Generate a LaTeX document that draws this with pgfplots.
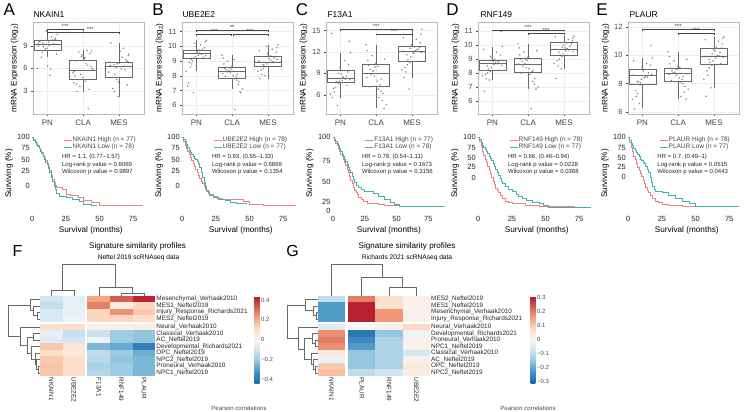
\documentclass[border=0pt]{standalone}
\usepackage{fontspec}
\setmainfont{Liberation Sans}
\usepackage{pgfplots}
\pgfplotsset{compat=1.18}
\usepackage{pgfplotstable}
\usepgfplotslibrary{statistics}

\definecolor{hi}{RGB}{240,128,128}
\definecolor{lo}{RGB}{64,178,178}
\definecolor{boxc}{RGB}{105,105,105}
\definecolor{ptc}{RGB}{115,115,115}
\definecolor{dend}{RGB}{105,105,105}
\definecolor{txt}{RGB}{70,70,70}

\pgfdeclareplotmark{cellF}{\pgfpathrectangle{\pgfpoint{-11.35pt}{-3.3pt}}{\pgfpoint{22.7pt}{6.6pt}}\pgfusepath{fill}}
\pgfdeclareplotmark{cellG}{\pgfpathrectangle{\pgfpoint{-13.7pt}{-3.3pt}}{\pgfpoint{27.4pt}{6.6pt}}\pgfusepath{fill}}

\tikzset{
  star/.style={font=\fontsize{6}{6}\selectfont, text=txt, inner sep=0.3pt, anchor=south},
  hr/.style={anchor=west, align=left, font=\fontsize{6}{7.5}\selectfont, inner sep=0pt, text=black!85},
}

\pgfplotsset{
  colormap={rdbu}{rgb255=(33,102,172) rgb255=(67,147,195) rgb255=(146,197,222) rgb255=(209,229,240) rgb255=(247,247,247) rgb255=(253,219,199) rgb255=(244,165,130) rgb255=(214,96,77) rgb255=(178,24,43)},
  /pgf/number format/assume math mode=true,
  boxax/.style={
    scale only axis, anchor=south west, width=111pt, height=92pt,
    xmin=0.6, xmax=3.7, xtick={1,2,3}, xticklabels={PN,CLA,MES},
    axis line style={gray!55, line width=0.4pt},
    tick style={txt, line width=0.4pt}, tick align=outside, major tick length=2pt,
    xtick pos=bottom, ytick pos=left,
    grid=major, grid style={gray!13, line width=0.4pt},
    yticklabel style={font=\fontsize{7.5}{8}\selectfont, text=txt},
    xticklabel style={font=\fontsize{8}{9}\selectfont, text=txt},
    ylabel={mRNA Expression (log\textsubscript{2})},
    ylabel style={font=\fontsize{8.2}{9}\selectfont, yshift=-2pt},
    clip=false},
  bx/.style={draw=boxc, line width=0.45pt, solid, fill=none, mark=none},
  pts/.style={only marks, mark=*, mark size=0.55pt, ptc, opacity=0.75},
  sig/.style={draw=txt, line width=0.45pt, mark=none},
  survax/.style={
    scale only axis, anchor=south west, height=80.3pt, width=119.7pt,
    xmin=-1, xmax=88, ymin=-5, ymax=105,
    axis line style={draw=none}, major tick length=0pt,
    xtick={0,25,50,75},
    tick label style={font=\fontsize{7.5}{8}\selectfont, text=black!85},
    xticklabel style={yshift=1pt},
    yticklabel style={inner sep=1pt},
    xlabel={Survival (months)}, ylabel={Surviving (\%)},
    label style={font=\fontsize{8.2}{9}\selectfont},
    xlabel style={yshift=2pt},
    legend style={draw=none, fill=none, anchor=north west,
      font=\fontsize{6.5}{7}\selectfont, text=txt,
      nodes={inner sep=0.5pt}, row sep=0pt},
    legend cell align=left,
    legend image code/.code={\draw[##1, line width=0.7pt] (0pt,0pt) -- (8pt,0pt);}},
  surv/.style={const plot, mark=none, line width=0.6pt},
  hm/.style={
    scale only axis, anchor=south west, height=80pt,
    ymin=-12.8, ymax=-0.5, colormap name=rdbu,
    axis line style={draw=none}, major tick length=0pt,
    ytick={-1,-2,-3,-4,-5.3,-6.3,-7.3,-8.3,-9.3,-10.3,-11.3,-12.3},
    yticklabel pos=right,
    tick label style={font=\fontsize{6.4}{7}\selectfont, text=black!85},
    yticklabel style={inner sep=1pt},
    xticklabel style={rotate=-90, anchor=west, inner sep=1.5pt},
    clip=false},
  cb/.style={at={(parent axis.north east)}, anchor=north west,
    width=4.8pt, height=87pt, axis line style={draw=none}, major tick length=0pt,
    yticklabel style={font=\fontsize{6}{7}\selectfont, text=txt, inner sep=1.5pt}},
  dendax/.style={scale only axis, hide axis, clip=false},
  dd/.style={draw=dend, line width=0.5pt, mark=none, unbounded coords=jump},
}

\newcommand{\ttl}[3]{\node[anchor=west, font=\fontsize{8.5}{9}\selectfont] at (#1pt,-#2pt) {#3};}
\newcommand{\lett}[3]{\node[font=\fontsize{17}{17}\selectfont] at (#1pt,-#2pt) {#3};}

% jitter offsets and point values, columns: PN, CLA, MES
\pgfplotstableread{
j p c m
-0.25 9.4 6.0 6.4
0.12 10.2 8.2 8.7
-0.06 8.6 4.3 4.5
0.21 9.9 7.0 7.0
-0.17 7.5 3.2 3.3
0.05 9.1 7.6 6.2
0.28 10.5 5.4 7.9
-0.11 8.9 8.4 5.2
0.01 6.3 4.8 6.7
-0.22 9.6 6.3 9.4
0.17 9.3 2.9 5.8
-0.03 11.0 7.3 2.2
0.25 8.4 5.6 6.9
-0.19 9.7 8.0 4.8
0.09 5.9 3.6 7.5
-0.08 9.2 6.6 6.1
0.23 10.0 5.0 3.8
-0.14 8.1 0.6 6.5
0.03 9.5 7.8 8.3
-0.28 6.0 5.8 5.5
0.14 9.8 4.5 6.3
-0.01 8.7 7.1 4.2
0.19 10.8 3.9 7.2
-0.24 9.0 8.3 6.8
0.07 5.1 5.2 5.9
-0.13 9.4 6.4 2.9
0.26 7.9 4.1 7.7
-0.05 9.75 7.4 6.6
}\ptsA
\pgfplotstableread{
j p c m
-0.25 9.5 8.3 9.0
0.12 10.1 9.0 9.8
-0.06 9.2 7.8 8.6
0.21 9.7 8.5 9.3
-0.17 8.6 7.4 8.1
0.05 9.4 8.2 8.9
0.28 10.4 9.4 10.1
-0.11 9.0 7.9 8.7
0.01 9.6 8.6 9.4
-0.22 7.5 6.9 7.8
0.17 9.8 8.4 9.2
-0.03 9.3 8.0 8.8
0.25 10.3 9.2 9.9
-0.19 8.9 7.6 8.4
0.09 9.55 8.35 9.05
-0.08 6.85 5.7 8.0
0.23 9.9 8.8 9.6
-0.14 9.1 8.1 8.75
0.03 9.65 8.45 9.15
-0.28 8.3 7.1 8.3
0.14 9.45 8.25 8.95
-0.01 10.0 8.7 9.5
0.19 9.25 7.95 8.65
-0.24 7.3 6.85 9.7
0.07 9.75 8.55 9.35
-0.13 8.8 7.7 8.5
0.26 9.35 8.15 9.1
-0.05 10.2 9.1 10.0
}\ptsB
\pgfplotstableread{
j p c m
-0.25 8.3 9.0 12.1
0.12 10.8 11.5 13.8
-0.06 7.6 6.8 10.5
0.21 9.2 10.1 12.6
-0.17 6.4 5.2 9.2
0.05 8.0 8.6 11.8
0.28 11.9 13.0 15.2
-0.11 7.8 7.4 10.9
0.01 9.5 10.4 12.9
-0.22 5.6 4.1 8.4
0.17 8.6 9.6 12.4
-0.03 7.9 7.9 11.3
0.25 13.5 12.2 14.5
-0.19 6.9 6.2 9.8
0.09 8.4 9.3 12.2
-0.08 4.5 5.6 6.8
0.23 10.2 10.8 13.3
-0.14 7.7 8.2 11.6
0.03 8.9 9.9 12.0
-0.28 6.1 4.6 9.5
0.14 8.2 8.8 12.3
-0.01 9.8 10.6 13.0
0.19 7.3 7.1 10.7
-0.24 14.6 11.0 14.0
0.07 8.5 9.4 12.7
-0.13 7.0 6.5 10.2
0.26 8.1 8.4 11.9
-0.05 9.0 10.0 12.5
}\ptsC
\pgfplotstableread{
j p c m
-0.25 8.7 8.6 9.7
0.12 9.5 9.5 10.4
-0.06 8.1 7.9 9.2
0.21 8.9 9.0 10.1
-0.17 7.6 7.2 8.5
0.05 8.6 8.4 9.6
0.28 9.9 10.1 10.65
-0.11 8.3 8.1 9.3
0.01 9.0 9.1 10.2
-0.22 6.7 6.85 7.6
0.17 8.8 8.8 9.9
-0.03 8.4 8.3 9.4
0.25 11.0 9.8 10.5
-0.19 7.9 7.6 8.9
0.09 8.75 8.7 9.75
-0.08 7.5 5.45 8.3
0.23 9.3 9.3 10.3
-0.14 8.5 8.2 9.5
0.03 8.85 8.9 9.8
-0.28 7.8 7.0 8.7
0.14 8.65 8.5 9.65
-0.01 9.1 9.2 10.0
0.19 8.2 8.0 9.25
-0.24 9.7 9.6 10.6
0.07 8.95 8.95 10.15
-0.13 8.0 7.4 9.0
0.26 8.55 8.65 9.55
-0.05 9.2 9.05 9.85
}\ptsD
\pgfplotstableread{
j p c m
-0.25 8.6 8.7 9.9
0.12 9.4 9.6 11.0
-0.06 7.9 8.1 9.3
0.21 9.0 9.1 10.5
-0.17 7.1 7.4 8.6
0.05 8.4 8.6 9.8
0.28 9.8 10.25 11.3
-0.11 8.1 8.3 9.5
0.01 9.15 9.2 10.6
-0.22 6.2 6.9 7.1
0.17 8.75 8.9 10.2
-0.03 8.3 8.4 9.6
0.25 10.7 9.9 11.2
-0.19 7.5 7.8 8.9
0.09 8.5 8.8 10.0
-0.08 6.6 7.1 7.7
0.23 9.3 9.4 10.8
-0.14 8.15 8.5 9.7
0.03 8.9 9.0 10.3
-0.28 6.9 7.6 8.3
0.14 8.45 8.75 9.95
-0.01 9.2 9.3 10.4
0.19 7.95 8.2 9.4
-0.24 9.6 9.7 11.1
0.07 9.0 9.05 10.55
-0.13 7.3 8.0 9.1
0.26 8.65 8.65 9.85
-0.05 8.05 9.15 10.1
}\ptsE

\begin{document}
\begin{tikzpicture}
\path[use as bounding box] (0pt,0pt) rectangle (747pt,-412pt);

% ---------------- box plots ----------------
\begin{axis}[boxax, at={(33pt,-114pt)}, ymin=-0.1, ymax=12.2, ytick={3,6,9}]
\addplot[bx, boxplot prepared={draw direction=y, draw position=1, lower whisker=7.5, lower quartile=8.45, median=9.2, upper quartile=9.75, upper whisker=11.0, box extend=0.75, whisker extend=0}] coordinates {};
\addplot[bx, boxplot prepared={draw direction=y, draw position=2, lower whisker=2.9, lower quartile=4.5, median=5.8, upper quartile=7.1, upper whisker=8.4, box extend=0.75, whisker extend=0}] coordinates {};
\addplot[bx, boxplot prepared={draw direction=y, draw position=3, lower whisker=2.2, lower quartile=4.75, median=6.25, upper quartile=6.8, upper whisker=9.4, box extend=0.75, whisker extend=0}] coordinates {};
\addplot[pts] table[x expr=1+\thisrow{j}, y=p] {\ptsA};
\addplot[pts] table[x expr=2-\thisrow{j}, y=c] {\ptsA};
\addplot[pts] table[x expr=3+\thisrow{j}, y=m] {\ptsA};
\addplot[sig] coordinates {(1,11.0) (1,11.2) (2,11.2) (2,11.0)};
\addplot[sig] coordinates {(1,10.65) (1,10.85) (3,10.85) (3,10.65)};
\node[star] at (axis cs:1.5,11.2) {***};
\node[star] at (axis cs:2.2,10.85) {***};
\end{axis}

\begin{axis}[boxax, at={(182pt,-114pt)}, ymin=5.4, ymax=11.65, ytick={6,7,8,9,10,11}]
\addplot[bx, boxplot prepared={draw direction=y, draw position=1, lower whisker=8.3, lower quartile=9.2, median=9.5, upper quartile=9.75, upper whisker=10.4, box extend=0.75, whisker extend=0}] coordinates {};
\addplot[bx, boxplot prepared={draw direction=y, draw position=2, lower whisker=7.1, lower quartile=7.85, median=8.3, upper quartile=8.55, upper whisker=9.4, box extend=0.75, whisker extend=0}] coordinates {};
\addplot[bx, boxplot prepared={draw direction=y, draw position=3, lower whisker=7.8, lower quartile=8.65, median=8.95, upper quartile=9.3, upper whisker=10.1, box extend=0.75, whisker extend=0}] coordinates {};
\addplot[pts] table[x expr=1+\thisrow{j}, y=p] {\ptsB};
\addplot[pts] table[x expr=2-\thisrow{j}, y=c] {\ptsB};
\addplot[pts] table[x expr=3+\thisrow{j}, y=m] {\ptsB};
\addplot[sig] coordinates {(1,11.0) (1,11.1) (3,11.1) (3,11.0)};
\addplot[sig] coordinates {(1,10.73) (1,10.83) (1.97,10.83) (1.97,10.73)};
\addplot[sig] coordinates {(2.03,10.73) (2.03,10.83) (3,10.83) (3,10.73)};
\node[star] at (axis cs:2,11.1) {**};
\node[star] at (axis cs:1.5,10.83) {***};
\node[star] at (axis cs:2.5,10.83) {***};
\end{axis}

\begin{axis}[boxax, at={(326pt,-114pt)}, ymin=3.3, ymax=16.2, ytick={6,9,12,15}]
\addplot[bx, boxplot prepared={draw direction=y, draw position=1, lower whisker=5.6, lower quartile=7.7, median=8.3, upper quartile=9.4, upper whisker=11.9, box extend=0.75, whisker extend=0}] coordinates {};
\addplot[bx, boxplot prepared={draw direction=y, draw position=2, lower whisker=4.1, lower quartile=7.15, median=9.0, upper quartile=10.25, upper whisker=13.0, box extend=0.75, whisker extend=0}] coordinates {};
\addplot[bx, boxplot prepared={draw direction=y, draw position=3, lower whisker=8.4, lower quartile=10.7, median=12.1, upper quartile=12.8, upper whisker=15.2, box extend=0.75, whisker extend=0}] coordinates {};
\addplot[pts] table[x expr=1+\thisrow{j}, y=p] {\ptsC};
\addplot[pts] table[x expr=2-\thisrow{j}, y=c] {\ptsC};
\addplot[pts] table[x expr=3+\thisrow{j}, y=m] {\ptsC};
\addplot[sig] coordinates {(1,14.95) (1,15.15) (3,15.15) (3,14.95)};
\addplot[sig] coordinates {(2,14.35) (2,14.55) (3,14.55) (3,14.35)};
\node[star] at (axis cs:2,15.15) {***};
\node[star] at (axis cs:2.5,14.55) {***};
\end{axis}

\begin{axis}[boxax, at={(478pt,-114pt)}, ymin=5.06, ymax=11.66, ytick={6,7,8,9,10,11}]
\addplot[bx, boxplot prepared={draw direction=y, draw position=1, lower whisker=7.5, lower quartile=8.2, median=8.7, upper quartile=8.95, upper whisker=9.9, box extend=0.75, whisker extend=0}] coordinates {};
\addplot[bx, boxplot prepared={draw direction=y, draw position=2, lower whisker=6.85, lower quartile=8.05, median=8.65, upper quartile=9.07, upper whisker=10.1, box extend=0.75, whisker extend=0}] coordinates {};
\addplot[bx, boxplot prepared={draw direction=y, draw position=3, lower whisker=8.3, lower quartile=9.25, median=9.7, upper quartile=10.2, upper whisker=10.65, box extend=0.75, whisker extend=0}] coordinates {};
\addplot[pts] table[x expr=1+\thisrow{j}, y=p] {\ptsD};
\addplot[pts] table[x expr=2-\thisrow{j}, y=c] {\ptsD};
\addplot[pts] table[x expr=3+\thisrow{j}, y=m] {\ptsD};
\addplot[sig] coordinates {(1,11.0) (1,11.1) (3,11.1) (3,11.0)};
\addplot[sig] coordinates {(2,10.75) (2,10.85) (3,10.85) (3,10.75)};
\node[star] at (axis cs:2,11.1) {***};
\node[star] at (axis cs:2.5,10.85) {***};
\end{axis}

\begin{axis}[boxax, at={(628pt,-114pt)}, ymin=5.85, ymax=12.35, ytick={6,8,10,12}]
\addplot[bx, boxplot prepared={draw direction=y, draw position=1, lower whisker=6.3, lower quartile=7.98, median=8.56, upper quartile=9.02, upper whisker=9.8, box extend=0.75, whisker extend=0}] coordinates {};
\addplot[bx, boxplot prepared={draw direction=y, draw position=2, lower whisker=6.9, lower quartile=8.2, median=8.74, upper quartile=9.1, upper whisker=10.25, box extend=0.75, whisker extend=0}] coordinates {};
\addplot[bx, boxplot prepared={draw direction=y, draw position=3, lower whisker=7.7, lower quartile=9.4, median=9.95, upper quartile=10.5, upper whisker=11.3, box extend=0.75, whisker extend=0}] coordinates {};
\addplot[pts] table[x expr=1+\thisrow{j}, y=p] {\ptsE};
\addplot[pts] table[x expr=2-\thisrow{j}, y=c] {\ptsE};
\addplot[pts] table[x expr=3+\thisrow{j}, y=m] {\ptsE};
\addplot[sig] coordinates {(1,11.72) (1,11.82) (3,11.82) (3,11.72)};
\addplot[sig] coordinates {(2,11.44) (2,11.54) (3,11.54) (3,11.44)};
\node[star] at (axis cs:2,11.82) {***};
\node[star] at (axis cs:2.5,11.54) {***};
\end{axis}

% ---------------- survival ----------------
\begin{axis}[survax, at={(30.95pt,-213.65pt)}, ytick={33.5,53.5,68.5,84.5,100}, yticklabels={0,25,50,75,100}, legend style={at={(0.245,0.99)}}]
\addplot[surv, hi] coordinates {(0,100)(1,97)(2,94)(3,91)(4,88)(5,85)(6,82)(7,79)(8,75)(9,72)(10,68)(11,64)(12,60)(13,54)(14,48)(15,42)(16,38)(17,34)(18,31)(22,29)(25,22)(28,20)(34,18)(38,13)(44,11)(50,7)(60,6)(82,6)};
\addlegendentry{NKAIN1 High (n = 77)}
\addplot[surv, lo] coordinates {(0,100)(1,96)(2,93)(3,90)(4,87)(5,84)(6,81)(7,78)(8,74)(9,70)(10,66)(11,62)(12,57)(13,51)(14,45)(15,39)(16,33)(17,28)(18,23)(20,19)(25,17)(30,14)(35,12)(38,8)(44,7)(48,7)};
\addlegendentry{NKAIN1 Low (n = 78)}
\node[hr] at (axis cs:22,62.3) {HR = 1.1, (0.77–1.57)\\Log-rank p value = 0.6069\\Wilcoxon p value = 0.9897};
\end{axis}

\begin{axis}[survax, at={(180.95pt,-213.65pt)}, ytick={33.5,53.5,68.5,84.5,100}, yticklabels={0,25,50,75,100}, legend style={at={(0.245,0.99)}}]
\addplot[surv, hi] coordinates {(0,100)(1,94)(2,88)(3,84)(4,80)(5,76)(6,72)(7,68)(8,64)(9,60)(10,56)(11,52)(12,48)(13,44)(14,40)(15,36)(16,32)(17,28)(18,25)(20,22)(23,19)(26,16)(30,15)(40,14)(45,12)(50,8)(60,7)(84,6)};
\addlegendentry{UBE2E2 High (n = 78)}
\addplot[surv, lo] coordinates {(0,100)(1,97)(2,94)(3,90)(4,86)(5,82)(6,79)(7,76)(8,73)(9,71)(10,69)(11,67)(12,64)(13,58)(14,52)(15,45)(16,38)(17,32)(18,27)(19,23)(20,20)(23,17)(27,15)(32,13)(36,11)(40,9)(48,9)};
\addlegendentry{UBE2E2 Low (n = 77)}
\node[hr] at (axis cs:22,62.3) {HR = 0.93, (0.65–1.33)\\Log-rank p value = 0.6869\\Wilcoxon p value = 0.1354};
\end{axis}

\begin{axis}[survax, at={(331.73pt,-213.65pt)}, width=114.3pt, xmax=89, ytick={-1,11,39,67,100}, yticklabels={0,25,50,75,100}, legend style={at={(0.264,0.99)}}]
\addplot[surv, hi] coordinates {(0,100)(1,96)(2,92)(3,88)(4,84)(5,80)(6,76)(7,73)(8,69)(9,65)(10,61)(11,56)(12,51)(13,46)(14,41)(15,36)(16,31)(17,27)(18,24)(19,21)(20,18)(22,15)(24,12)(27,9)(32,9)(36,8)(40,6)(52,5)(88,5)};
\addlegendentry{F13A1 High (n = 77)}
\addplot[surv, lo] coordinates {(0,100)(1,97)(2,94)(3,91)(4,88)(5,84)(6,80)(7,76)(8,73)(9,70)(10,67)(11,63)(12,59)(13,55)(14,51)(15,46)(16,42)(17,38)(18,34)(20,31)(22,28)(25,26)(28,25)(32,23)(36,19)(40,15)(45,11)(48,8)(52,5)(88,5)};
\addlegendentry{F13A1 Low (n = 78)}
\node[hr] at (axis cs:22.8,62.3) {HR = 0.78, (0.54–1.11)\\Log-rank p value = 0.1673\\Wilcoxon p value = 0.3156};
\end{axis}

\begin{axis}[survax, at={(476.95pt,-213.65pt)}, ytick={43.5,59.5,71,85,100}, yticklabels={0,25,50,75,100}, legend style={at={(0.245,0.99)}}]
\addplot[surv, hi] coordinates {(0,100)(1,94)(2,87)(3,80)(4,75)(5,70)(6,65)(7,60)(8,55)(9,50)(10,45)(11,40)(12,35)(13,30)(14,27)(15,24)(16,20)(18,16)(20,12)(22,10)(25,9)(35,7)(45,5)(72,5)};
\addlegendentry{RNF149 High (n = 78)}
\addplot[surv, lo] coordinates {(0,100)(1,97)(2,93)(3,89)(4,86)(5,83)(6,80)(7,77)(8,74)(9,71)(10,68)(11,64)(12,60)(13,56)(14,52)(15,48)(16,44)(17,40)(18,37)(20,33)(22,28)(25,25)(28,22)(30,19)(33,16)(36,13)(40,11)(45,9)(48,6)(52,4)(84,4)};
\addlegendentry{RNF149 Low (n = 77)}
\node[hr] at (axis cs:22,62.3) {HR = 0.66, (0.46–0.94)\\Log-rank p value = 0.0228\\Wilcoxon p value = 0.0388};
\end{axis}

\begin{axis}[survax, at={(626.95pt,-213.65pt)}, ytick={45.5,59.5,71.5,84.5,100}, yticklabels={0,25,50,75,100}, legend style={at={(0.245,0.99)}}]
\addplot[surv, hi] coordinates {(0,100)(1,93)(2,86)(3,80)(4,74)(5,69)(6,64)(7,59)(8,54)(9,50)(10,46)(11,41)(12,36)(13,31)(14,27)(15,24)(16,20)(18,16)(20,12)(22,10)(25,8)(30,6)(40,5)(50,5)};
\addlegendentry{PLAUR High (n = 78)}
\addplot[surv, lo] coordinates {(0,100)(1,96)(2,92)(3,88)(4,85)(5,82)(6,79)(7,76)(8,73)(9,70)(10,68)(11,66)(12,64)(13,60)(14,56)(15,52)(16,45)(17,38)(18,32)(19,28)(20,26)(25,24)(30,20)(35,16)(40,12)(45,9)(50,5)(82,4)};
\addlegendentry{PLAUR Low (n = 77)}
\node[hr] at (axis cs:21.5,62.3) {HR = 0.7, (0.49–1)\\Log-rank p value = 0.0515\\Wilcoxon p value = 0.0443};
\end{axis}

% ---------------- heatmap F ----------------
\begin{axis}[hm, at={(40pt,-376pt)}, width=115.3pt, xmin=0.5, xmax=5.6,
  xtick={1,2,3.1,4.1,5.1}, xticklabels={NKAIN1,UBE2E2,F13A1,RNF149,PLAUR},
  yticklabels={Mesenchymal\_Verhaak2010,MES1\_Neftel2019,Injury\_Response\_Richards2021,MES2\_Neftel2019,Neural\_Verhaak2010,Classical\_Verhaak2010,AC\_Neftel2019,Developmental\_Richards2021,OPC\_Neftel2019,NPC2\_Neftel2019,Proneural\_Verhaak2010,NPC1\_Neftel2019},
  point meta min=-0.44, point meta max=0.44,
  colorbar, colorbar style={cb, xshift=90.7pt, ytick={-0.4,-0.2,0,0.2,0.4}, yticklabels={−0.4,−0.2,0,0.2,0.4}}]
\addplot[scatter, only marks, mark=cellF, scatter src=explicit, scatter/use mapped color={draw=none, fill=mapped color}] table[x=x, y=y, meta=c] {
x y c
1 -1 -0.10
2 -1 -0.05
3.1 -1 0.22
4.1 -1 0.33
5.1 -1 0.42
1 -2 -0.13
2 -2 -0.05
3.1 -2 0.28
4.1 -2 0.05
5.1 -2 0.12
1 -3 -0.08
2 -3 -0.04
3.1 -3 0.12
4.1 -3 0.25
5.1 -3 0.15
1 -4 -0.08
2 -4 -0.03
3.1 -4 0.12
4.1 -4 0.12
5.1 -4 0.10
1 -5.3 0.10
2 -5.3 0.10
3.1 -5.3 0.03
4.1 -5.3 0.03
5.1 -5.3 0.04
1 -6.3 -0.05
2 -6.3 -0.13
3.1 -6.3 -0.12
4.1 -6.3 -0.20
5.1 -6.3 -0.22
1 -7.3 -0.07
2 -7.3 -0.10
3.1 -7.3 -0.03
4.1 -7.3 -0.20
5.1 -7.3 -0.22
1 -8.3 0.15
2 -8.3 0.07
3.1 -8.3 -0.25
4.1 -8.3 -0.28
5.1 -8.3 -0.38
1 -9.3 0.10
2 -9.3 0.06
3.1 -9.3 -0.14
4.1 -9.3 -0.20
5.1 -9.3 -0.27
1 -10.3 0.15
2 -10.3 0.10
3.1 -10.3 -0.15
4.1 -10.3 -0.22
5.1 -10.3 -0.25
1 -11.3 0.16
2 -11.3 0.10
3.1 -11.3 -0.18
4.1 -11.3 -0.20
5.1 -11.3 -0.25
1 -12.3 0.15
2 -12.3 0.10
3.1 -12.3 -0.16
4.1 -12.3 -0.20
5.1 -12.3 -0.25
};
\end{axis}

\begin{axis}[dendax, anchor=south west, at={(40pt,-296pt)}, width=115.3pt, height=32pt, xmin=0.5, xmax=5.6, ymin=0, ymax=32]
\addplot[dd] coordinates {(1,0)(1,6)(2,6)(2,0) (nan,nan) (4.1,0)(4.1,3)(5.1,3)(5.1,0) (nan,nan) (3.1,0)(3.1,9)(4.6,9)(4.6,3) (nan,nan) (1.5,6)(1.5,32)(3.85,32)(3.85,9)};
\end{axis}

\begin{axis}[dendax, anchor=south east, at={(40pt,-376pt)}, width=32pt, height=80pt, xmin=-32, xmax=0, ymin=-12.8, ymax=-0.5]
\addplot[dd] coordinates {
(0,-11.3)(-2,-11.3)(-2,-12.3)(0,-12.3) (nan,nan)
(0,-10.3)(-3.5,-10.3)(-3.5,-11.8)(-2,-11.8) (nan,nan)
(0,-9.3)(-5,-9.3)(-5,-11.05)(-3.5,-11.05) (nan,nan)
(0,-8.3)(-9,-8.3)(-9,-10.175)(-5,-10.175) (nan,nan)
(0,-6.3)(-7,-6.3)(-7,-7.3)(0,-7.3) (nan,nan)
(-7,-6.8)(-13,-6.8)(-13,-9.2375)(-9,-9.2375) (nan,nan)
(0,-5.3)(-20,-5.3)(-20,-8.01875)(-13,-8.01875) (nan,nan)
(0,-3)(-3,-3)(-3,-4)(0,-4) (nan,nan)
(0,-2)(-7,-2)(-7,-3.5)(-3,-3.5) (nan,nan)
(0,-1)(-10,-1)(-10,-2.75)(-7,-2.75) (nan,nan)
(-10,-1.875)(-32,-1.875)(-32,-6.659)(-20,-6.659)};
\end{axis}

% ---------------- heatmap G ----------------
\begin{axis}[hm, at={(318pt,-376pt)}, width=112pt, xmin=0.5, xmax=4.6,
  xtick={1,2.1,3.1,4.1}, xticklabels={NKAIN1,PLAUR,RNF149,UBE2E2},
  yticklabels={MES2\_Neftel2019,MES1\_Neftel2019,Mesenchymal\_Verhaak2010,Injury\_Response\_Richards2021,Neural\_Verhaak2010,Developmental\_Richards2021,Proneural\_Verhaak2010,NPC1\_Neftel2019,Classical\_Verhaak2010,AC\_Neftel2019,OPC\_Neftel2019,NPC2\_Neftel2019},
  point meta min=-0.31, point meta max=0.31,
  colorbar, colorbar style={cb, xshift=92pt, ytick={-0.3,-0.2,-0.1,0,0.1,0.2,0.3}, yticklabels={−0.3,−0.2,−0.1,0,0.1,0.2,0.3}}]
\addplot[scatter, only marks, mark=cellG, scatter src=explicit, scatter/use mapped color={draw=none, fill=mapped color}] table[x=x, y=y, meta=c] {
x y c
1 -1 -0.10
2.1 -1 0.20
3.1 -1 0.07
4.1 -1 0.02
1 -2 -0.22
2.1 -2 0.30
3.1 -2 0.06
4.1 -2 0.02
1 -3 -0.22
2.1 -3 0.30
3.1 -3 0.17
4.1 -3 0.02
1 -4 -0.22
2.1 -4 0.30
3.1 -4 0.17
4.1 -4 0.02
1 -5.3 -0.05
2.1 -5.3 0.00
3.1 -5.3 0.02
4.1 -5.3 0.08
1 -6.3 0.18
2.1 -6.3 -0.28
3.1 -6.3 -0.15
4.1 -6.3 -0.02
1 -7.3 0.20
2.1 -7.3 -0.25
3.1 -7.3 -0.12
4.1 -7.3 0.02
1 -8.3 0.18
2.1 -8.3 -0.22
3.1 -8.3 -0.12
4.1 -8.3 0.02
1 -9.3 0.04
2.1 -9.3 -0.15
3.1 -9.3 -0.12
4.1 -9.3 -0.07
1 -10.3 -0.02
2.1 -10.3 -0.15
3.1 -10.3 -0.12
4.1 -10.3 0.02
1 -11.3 0.10
2.1 -11.3 -0.15
3.1 -11.3 -0.12
4.1 -11.3 0.04
1 -12.3 0.12
2.1 -12.3 -0.10
3.1 -12.3 -0.08
4.1 -12.3 0.03
};
\end{axis}

\begin{axis}[dendax, anchor=south west, at={(318pt,-296pt)}, width=112pt, height=32pt, xmin=0.5, xmax=4.6, ymin=0, ymax=32]
\addplot[dd] coordinates {(3.1,0)(3.1,9)(4.1,9)(4.1,0) (nan,nan) (2.1,0)(2.1,19)(3.6,19)(3.6,9) (nan,nan) (1,0)(1,32)(2.85,32)(2.85,19)};
\end{axis}

\begin{axis}[dendax, anchor=south east, at={(318pt,-376pt)}, width=31pt, height=80pt, xmin=-31, xmax=0, ymin=-12.8, ymax=-0.5]
\addplot[dd] coordinates {
(0,-7.3)(-3,-7.3)(-3,-8.3)(0,-8.3) (nan,nan)
(0,-6.3)(-6,-6.3)(-6,-7.8)(-3,-7.8) (nan,nan)
(0,-11.3)(-3,-11.3)(-3,-12.3)(0,-12.3) (nan,nan)
(0,-10.3)(-5,-10.3)(-5,-11.8)(-3,-11.8) (nan,nan)
(0,-9.3)(-7,-9.3)(-7,-11.05)(-5,-11.05) (nan,nan)
(-6,-7.05)(-14,-7.05)(-14,-10.175)(-7,-10.175) (nan,nan)
(0,-5.3)(-20,-5.3)(-20,-8.6125)(-14,-8.6125) (nan,nan)
(0,-3)(-2,-3)(-2,-4)(0,-4) (nan,nan)
(0,-2)(-5,-2)(-5,-3.5)(-2,-3.5) (nan,nan)
(0,-1)(-13,-1)(-13,-2.75)(-5,-2.75) (nan,nan)
(-13,-1.875)(-31,-1.875)(-31,-6.956)(-20,-6.956)};
\end{axis}

% ---------------- text ----------------
\lett{9.2}{10}{A}\lett{158}{10}{B}\lett{302}{10}{C}\lett{452.5}{10}{D}\lett{602}{10}{E}
\node[font=\fontsize{16}{16}\selectfont] at (17.5pt,-251pt) {F};
\node[font=\fontsize{16}{16}\selectfont] at (292.5pt,-251pt) {G};
\ttl{30}{15}{NKAIN1}\ttl{179}{15}{UBE2E2}\ttl{324}{15}{F13A1}\ttl{477}{15}{RNF149}\ttl{626}{15}{PLAUR}
\node[font=\fontsize{8.1}{9}\selectfont] at (137.5pt,-246.7pt) {Signature similarity profiles};
\node[font=\fontsize{6.6}{7}\selectfont] at (138.5pt,-257.3pt) {Neftel 2019 scRNAseq data};
\node[font=\fontsize{8.1}{9}\selectfont] at (407pt,-246.7pt) {Signature similarity profiles};
\node[font=\fontsize{6.6}{7}\selectfont] at (407pt,-257.3pt) {Richards 2021 scRNAseq data};
\node[font=\fontsize{6}{7}\selectfont, text=txt] at (239pt,-408pt) {Pearson correlations};
\node[font=\fontsize{6}{7}\selectfont, text=txt] at (528pt,-408pt) {Pearson correlations};
\end{tikzpicture}
\end{document}
